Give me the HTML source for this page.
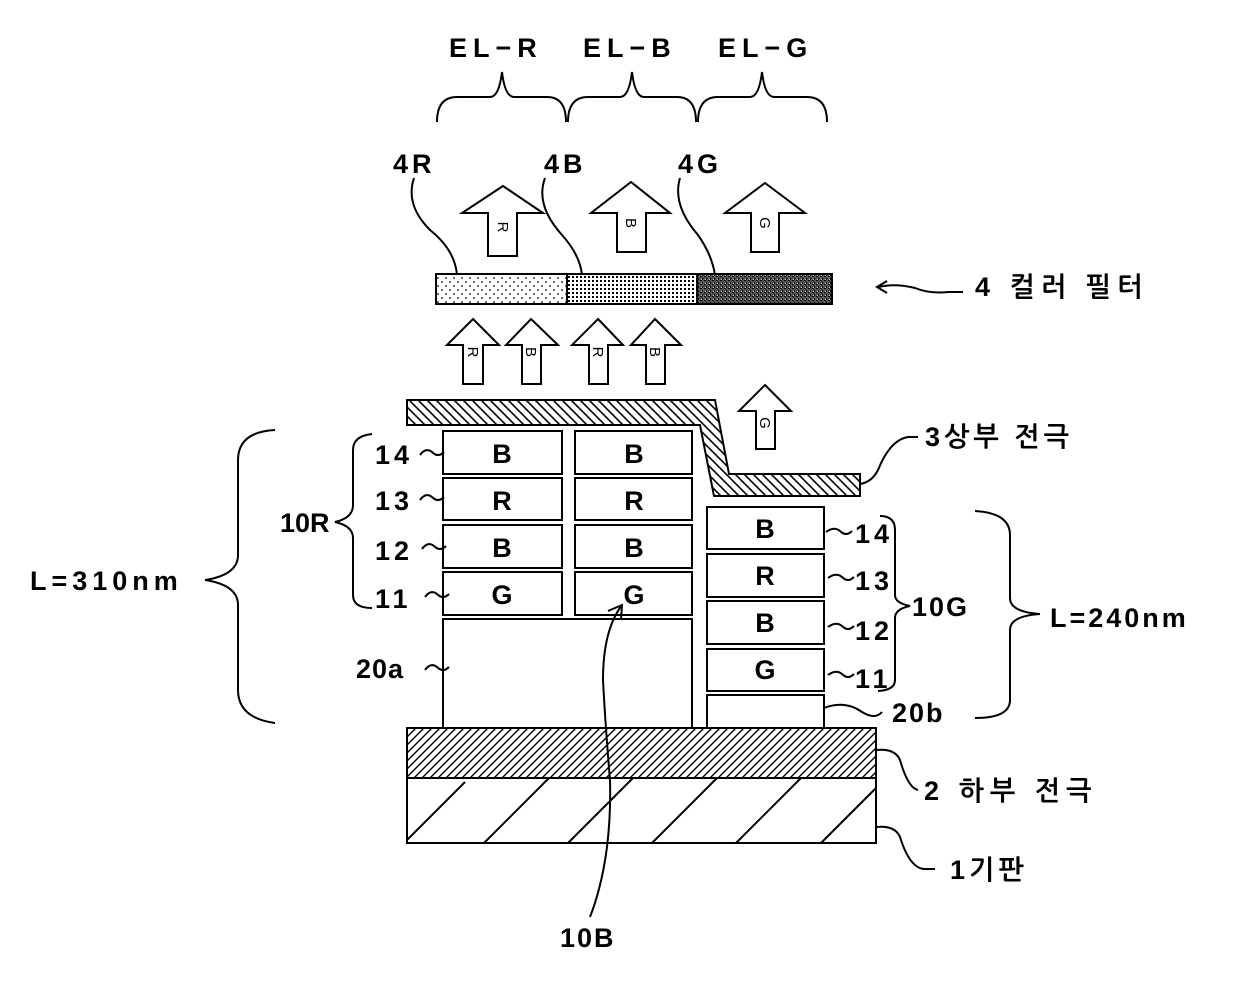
<!DOCTYPE html>
<html><head><meta charset="utf-8"><style>
html,body{margin:0;padding:0;background:#fff}
svg{display:block}
text{font-family:"Liberation Sans","NanumGothic","Noto Sans CJK KR",sans-serif;fill:#000}
.lb{font-size:27px;font-weight:bold;letter-spacing:4px}
</style></head><body>
<svg width="1240" height="986" viewBox="0 0 1240 986" xmlns="http://www.w3.org/2000/svg">
<defs>
<pattern id="dots" width="8" height="8" patternUnits="userSpaceOnUse"><rect width="8" height="8" fill="#fff"/><circle cx="2" cy="2" r="0.9" fill="#000"/><circle cx="6" cy="6" r="0.9" fill="#000"/></pattern>
<pattern id="grid" width="4" height="4" patternUnits="userSpaceOnUse"><rect width="4" height="4" fill="#fff"/><rect x="0" y="0" width="2" height="2" fill="#000"/></pattern>
<pattern id="dark" width="4" height="4" patternUnits="userSpaceOnUse"><rect width="4" height="4" fill="#555"/><rect x="0" y="0" width="2" height="1" fill="#000"/><rect x="2" y="2" width="1" height="2" fill="#000"/><rect x="1" y="3" width="1" height="1" fill="#ccc"/></pattern>
<pattern id="hatchB" width="9" height="9" patternUnits="userSpaceOnUse"><rect width="9" height="9" fill="#fff"/><path d="M-2,-2 L11,11 M-2,7 L2,11 M7,-2 L11,2" stroke="#000" stroke-width="1.6"/></pattern>
<pattern id="hatchF" width="8" height="8" patternUnits="userSpaceOnUse"><rect width="8" height="8" fill="#fff"/><path d="M-2,10 L10,-2 M-2,2 L2,-2 M6,10 L10,6" stroke="#000" stroke-width="1.4"/></pattern>
</defs>
<g fill="none" stroke="#000" stroke-width="2">
<path d="M437,122 Q437,97 457,97 L490,97 Q499,97 502,72 Q505,97 514,97 L547,97 Q566,97 566,122"/>
<path d="M568,122 Q568,97 588,97 L620,97 Q629,97 632,72 Q635,97 644,97 L677,97 Q696,97 696,122"/>
<path d="M698,122 Q698,97 718,97 L750,97 Q759,97 762,72 Q765,97 774,97 L807,97 Q827,97 827,122"/>
<path d="M414,178 Q405,205 430,230 Q455,250 457,275"/>
<path d="M545,178 Q535,205 562,235 Q580,255 582,275"/>
<path d="M680,178 Q672,205 698,235 Q712,255 715,275"/>
</g>
<rect x="436" y="274" width="131" height="30" fill="url(#dots)" stroke="#000" stroke-width="2"/>
<rect x="567" y="274" width="130" height="30" fill="url(#grid)" stroke="#000" stroke-width="2"/>
<rect x="697" y="274" width="135" height="30" fill="url(#dark)" stroke="#000" stroke-width="2"/>
<g fill="#fff" stroke="#000" stroke-width="2">
<path d="M503,186 L543,213 L517,213 L517,256 L488,256 L488,213 L462,213 Z"/>
<path d="M631,182 L670,213 L646,213 L646,252 L617,252 L617,213 L591,213 Z"/>
<path d="M765,183 L805,213 L779,213 L779,252 L751,252 L751,213 L725,213 Z"/>
<path d="M473,319 L499,345 L483,345 L483,384 L463,384 L463,345 L447,345 Z"/>
<path d="M531,319 L558,345 L541,345 L541,384 L522,384 L522,345 L506,345 Z"/>
<path d="M598,319 L623,345 L608,345 L608,384 L589,384 L589,345 L572,345 Z"/>
<path d="M655,319 L681,345 L665,345 L665,384 L646,384 L646,345 L631,345 Z"/>
<path d="M765,385 L791,411 L775,411 L775,449 L756,449 L756,411 L739,411 Z"/>
</g>
<g font-size="15" text-anchor="middle">
<text x="503" y="232" transform="rotate(90 503 227)">R</text>
<text x="631" y="228" transform="rotate(90 631 223)">B</text>
<text x="765" y="228" transform="rotate(90 765 223)">G</text>
<text x="473" y="357" transform="rotate(90 473 352)">R</text>
<text x="531" y="357" transform="rotate(90 531 352)">B</text>
<text x="598" y="357" transform="rotate(90 598 352)">R</text>
<text x="655" y="357" transform="rotate(90 655 352)">B</text>
<text x="765" y="428" transform="rotate(90 765 423)">G</text>
</g>
<path d="M407,400 L715,400 L729,474 L860,474 L860,496 L714,496 L700,425 L407,425 Z" fill="url(#hatchB)" stroke="#000" stroke-width="2"/>
<g fill="#fff" stroke="#000" stroke-width="2">
<rect x="443" y="431" width="119" height="43"/><rect x="575" y="431" width="117" height="43"/>
<rect x="443" y="478" width="119" height="42"/><rect x="575" y="478" width="117" height="42"/>
<rect x="443" y="525" width="119" height="43"/><rect x="575" y="525" width="117" height="43"/>
<rect x="443" y="572" width="119" height="43"/><rect x="575" y="572" width="117" height="43"/>
<rect x="443" y="619" width="249" height="109"/>
<rect x="707" y="507" width="117" height="42"/>
<rect x="707" y="554" width="117" height="43"/>
<rect x="707" y="601" width="117" height="43"/>
<rect x="707" y="649" width="117" height="42"/>
<rect x="707" y="695" width="117" height="33"/>
</g>
<g font-size="27" font-weight="bold" text-anchor="middle">
<text x="502" y="463">B</text><text x="634" y="463">B</text>
<text x="502" y="510">R</text><text x="634" y="510">R</text>
<text x="502" y="557">B</text><text x="634" y="557">B</text>
<text x="502" y="604">G</text><text x="634" y="604">G</text>
<text x="765" y="538">B</text><text x="765" y="585">R</text>
<text x="765" y="632">B</text><text x="765" y="679">G</text>
</g>
<rect x="407" y="728" width="469" height="50" fill="url(#hatchF)" stroke="#000" stroke-width="2"/>
<rect x="407" y="778" width="469" height="65" fill="#fff" stroke="#000" stroke-width="2"/>
<g stroke="#000" stroke-width="2" fill="none">
<path d="M407,840 L465,782 M484,843 L549,778 M568,843 L633,778 M652,843 L717,778 M736,843 L801,778 M821,843 L876,788"/>
</g>
<g fill="none" stroke="#000" stroke-width="2">
<path d="M275,430 Q238,432 238,460 L238,555 Q238,575 205,580 Q238,585 238,605 L238,690 Q238,718 275,723"/>
<path d="M372,434 Q353,436 353,450 L353,505 Q353,518 335,522 Q353,526 353,538 L353,595 Q353,608 372,608"/>
<path d="M975,511 Q1010,513 1010,535 L1010,598 Q1010,612 1040,614 Q1010,616 1010,630 L1010,700 Q1010,718 975,718"/>
<path d="M880,516 Q895,516 895,530 L895,595 Q895,603 910,606 Q895,609 895,618 L895,680 Q895,690 878,691"/>
<path d="M420,455 Q426,447 432,452 Q438,458 444,452"/>
<path d="M420,500 Q426,492 432,497 Q438,503 444,497"/>
<path d="M422,549 Q428,541 434,546 Q440,552 446,546"/>
<path d="M425,597 Q431,589 437,594 Q443,600 449,594"/>
<path d="M425,670 Q431,662 437,667 Q443,673 449,667"/>
<path d="M826,532 Q834,526 840,531 Q846,537 852,531"/>
<path d="M828,578 Q836,572 842,577 Q848,583 854,577"/>
<path d="M828,627 Q836,621 842,626 Q848,632 854,626"/>
<path d="M828,675 Q836,669 842,674 Q848,680 854,674"/>
<path d="M824,708 Q845,700 862,712 Q875,720 882,712"/>
<path d="M860,484 Q872,482 878,470 Q890,440 908,437 L918,437"/>
<path d="M963,292 L948,292 Q930,294 915,288 Q895,283 878,287"/>
<path d="M887,281 L877,287 L887,293"/>
<path d="M876,750 Q895,748 900,760 Q908,788 918,790"/>
<path d="M876,827 Q895,825 900,837 Q910,869 925,869 L935,869"/>
<path d="M590,917 Q612,860 610,780 Q605,720 603,680 Q603,630 622,605"/>
<path d="M608,611 L622,605 L621,620"/>
</g>
<g class="lb">
<text x="449" y="57" style="letter-spacing:6px">EL−R</text>
<text x="583" y="57" style="letter-spacing:6px">EL−B</text>
<text x="718" y="57" style="letter-spacing:6px">EL−G</text>
<text x="393" y="173">4R</text>
<text x="544" y="173">4B</text>
<text x="678" y="173">4G</text>
<text x="975" y="296" style="letter-spacing:6px">4 컬러 필터</text>
<text x="925" y="446" style="letter-spacing:4px">3상부 전극</text>
<text x="375" y="464">14</text>
<text x="375" y="510">13</text>
<text x="375" y="560">12</text>
<text x="375" y="608">11</text>
<text x="280" y="532" style="letter-spacing:0px">10R</text>
<text x="30" y="590" style="letter-spacing:5px">L=310nm</text>
<text x="356" y="678" style="letter-spacing:1px">20a</text>
<text x="855" y="543">14</text>
<text x="855" y="590">13</text>
<text x="855" y="640">12</text>
<text x="855" y="688">11</text>
<text x="912" y="616" style="letter-spacing:2px">10G</text>
<text x="1050" y="627" style="letter-spacing:3px">L=240nm</text>
<text x="892" y="722" style="letter-spacing:2px">20b</text>
<text x="924" y="800" style="letter-spacing:6px">2 하부 전극</text>
<text x="950" y="879" style="letter-spacing:4px">1기판</text>
<text x="560" y="947" style="letter-spacing:2px">10B</text>
</g>
</svg>
</body></html>
